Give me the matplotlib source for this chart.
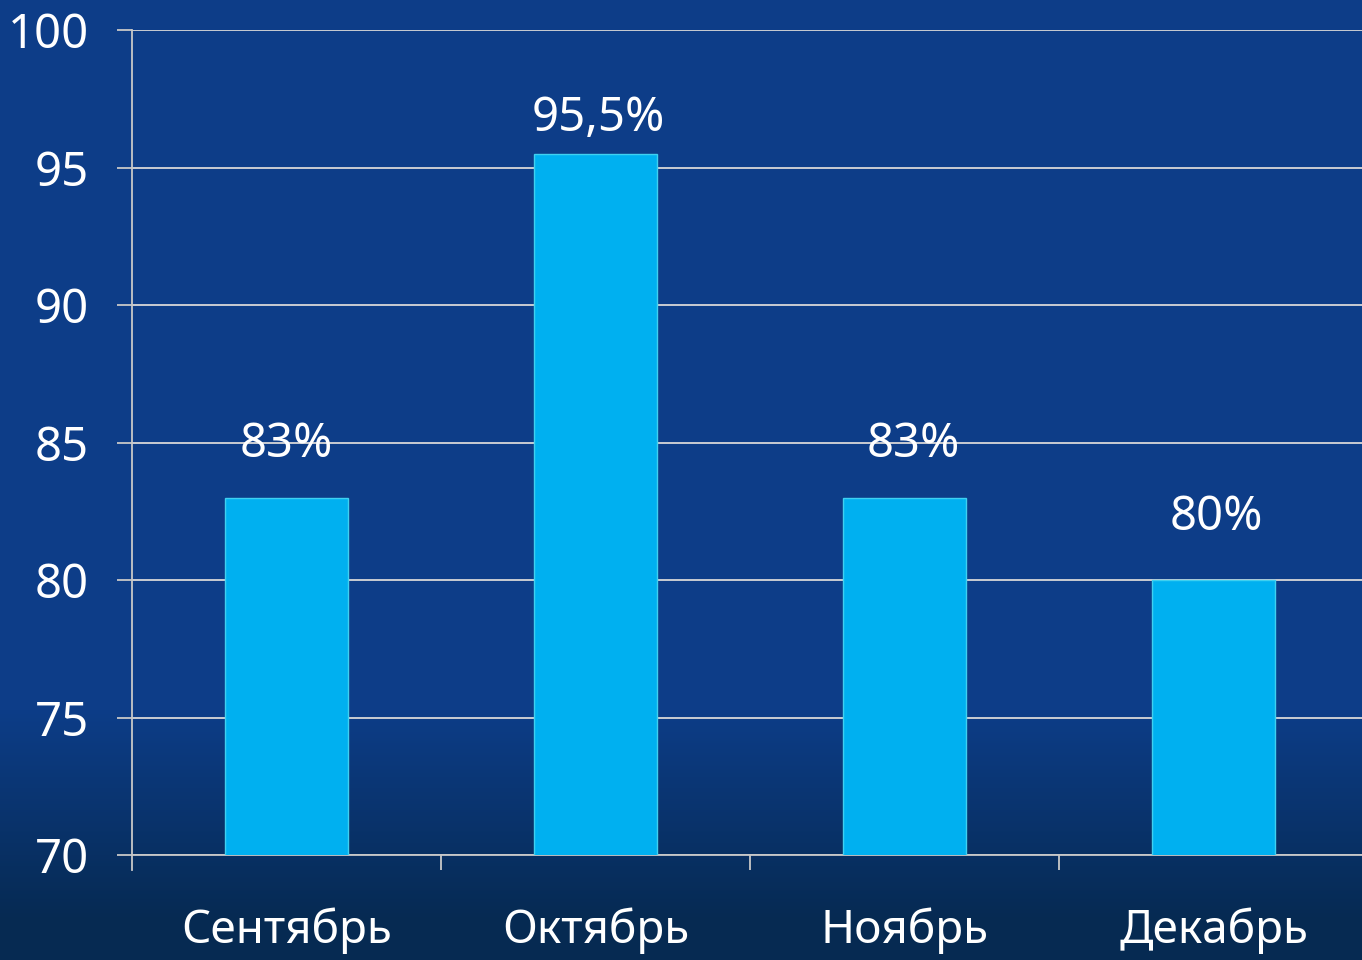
import matplotlib.pyplot as plt
import numpy as np

# chart data
months = ['Сентябрь', 'Октябрь', 'Ноябрь', 'Декабрь']
values = [83, 95.5, 83, 80]
value_labels = ['83%', '95,5%', '83%', '80%']
yticks = [70, 75, 80, 85, 90, 95, 100]

# label offsets above bars (points), as laid out on the slide
label_dy = [29, 16.5, 29, 36]
label_dx = [0, 2, 6, 2]

plt.rcParams['font.family'] = ['Noto Sans', 'DejaVu Sans']

fig = plt.figure(figsize=(13.62, 9.6), dpi=100)

# background: blue slide, darkening toward the bottom
bg = fig.add_axes([0, 0, 1, 1], zorder=-10)
rows = np.linspace(0, 1, 960)
t = np.clip((rows - 0.74) / 0.22, 0, 1)[:, None]
top = np.array([13, 61, 136]) / 255
bottom = np.array([6, 42, 82]) / 255
grad = (top * (1 - t) + bottom * t)[:, None, :]
bg.imshow(grad, aspect='auto', extent=[0, 1, 0, 1], origin='upper')
bg.axis('off')

ax = fig.add_axes([132 / 1362, 105 / 960, 1236 / 1362, 825 / 960])
ax.set_facecolor('none')

x = np.arange(len(months))
ax.bar(x, values, width=0.4, bottom=0, color='#00B0F0',
       edgecolor='#3FD0F0', linewidth=1.0, zorder=3)

ax.set_xlim(-0.5, len(months) - 0.5)
ax.set_ylim(70, 100)
ax.set_yticks(yticks)
ax.set_yticklabels([str(v) for v in yticks])
ax.yaxis.grid(True, color='#D8D8D8', linewidth=1.3, zorder=1)

for s in ['top', 'right']:
    ax.spines[s].set_visible(False)
ax.spines['left'].set_color('#C8C8C8')
ax.spines['bottom'].set_color('#C8C8C8')
ax.spines['left'].set_linewidth(1.3)
ax.spines['bottom'].set_linewidth(1.3)
ax.spines['left'].set_bounds(69.45, 100)

ax.tick_params(axis='y', colors='#C8C8C8', length=11, width=1.3,
               labelcolor='white', labelsize=34, pad=20)
ax.set_xticks(x)
ax.set_xticklabels(months)
ax.tick_params(axis='x', which='major', length=0, labelcolor='white',
               labelsize=33, pad=38)
ax.set_xticks(np.arange(0.5, len(months) - 0.5, 1), minor=True)
ax.tick_params(axis='x', which='minor', length=11, width=1.3, colors='#C8C8C8')

for xi, v, lab, dy, dx in zip(x, values, value_labels, label_dy, label_dx):
    ax.annotate(lab, (xi, v), xytext=(dx, dy), textcoords='offset points',
                ha='center', va='baseline', color='white', fontsize=34)

fig.savefig('out.png', dpi=100)
